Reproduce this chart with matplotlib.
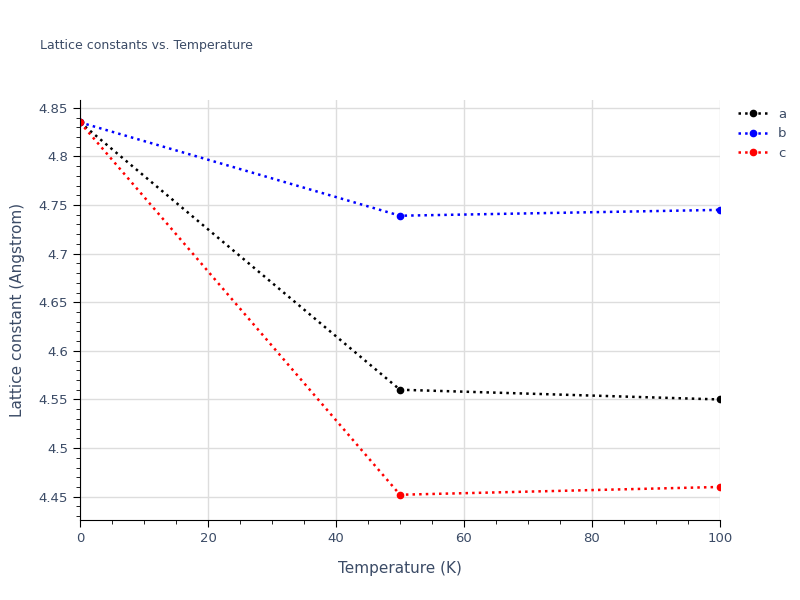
import matplotlib
matplotlib.use("Agg")
import matplotlib.pyplot as plt
from matplotlib.ticker import MultipleLocator, FuncFormatter

temps = [0, 50, 100]
a_vals = [4.835, 4.560, 4.550]
b_vals = [4.835, 4.739, 4.745]
c_vals = [4.835, 4.452, 4.460]

fig = plt.figure(figsize=(8, 6), dpi=100)
ax = fig.add_axes([0.1, 0.1333, 0.8, 0.7])
txt = '#3b4b66'
for vals, col, lab in [(a_vals, 'black', 'a'), (b_vals, 'blue', 'b'), (c_vals, 'red', 'c')]:
    ax.plot(temps, vals, linestyle=':', color=col, lw=1.8, marker='o', ms=4.5, label=lab)

ax.set_xlim(0, 100)
ax.set_ylim(4.426, 4.858)
ax.xaxis.set_major_locator(MultipleLocator(20))
ax.xaxis.set_minor_locator(MultipleLocator(5))
ax.yaxis.set_major_locator(MultipleLocator(0.05))
ax.yaxis.set_minor_locator(MultipleLocator(0.01))
ax.yaxis.set_major_formatter(FuncFormatter(lambda v, p: f"{v:.3f}".rstrip('0').rstrip('.')))
ax.grid(True, which='major', color='#dddddd', lw=1)
ax.set_axisbelow(True)
for s in ['top', 'right']:
    ax.spines[s].set_visible(False)
for s in ['left', 'bottom']:
    ax.spines[s].set_color('black')
ax.tick_params(which='both', direction='out', colors=txt, labelsize=9.5)
ax.tick_params(which='major', length=5, color='black')
ax.tick_params(which='minor', length=3, color='black')
ax.set_xlabel('Temperature (K)', color=txt, fontsize=11, labelpad=12)
ax.set_ylabel('Lattice constant (Angstrom)', color=txt, fontsize=11, labelpad=10)
fig.text(0.05, 0.918, 'Lattice constants vs. Temperature', color=txt, fontsize=9)
leg = ax.legend(loc='upper left', bbox_to_anchor=(1.01, 1.01), frameon=False, fontsize=9.5, handlelength=2.2)
for t in leg.get_texts():
    t.set_color(txt)
fig.savefig('out.png', dpi=100)
